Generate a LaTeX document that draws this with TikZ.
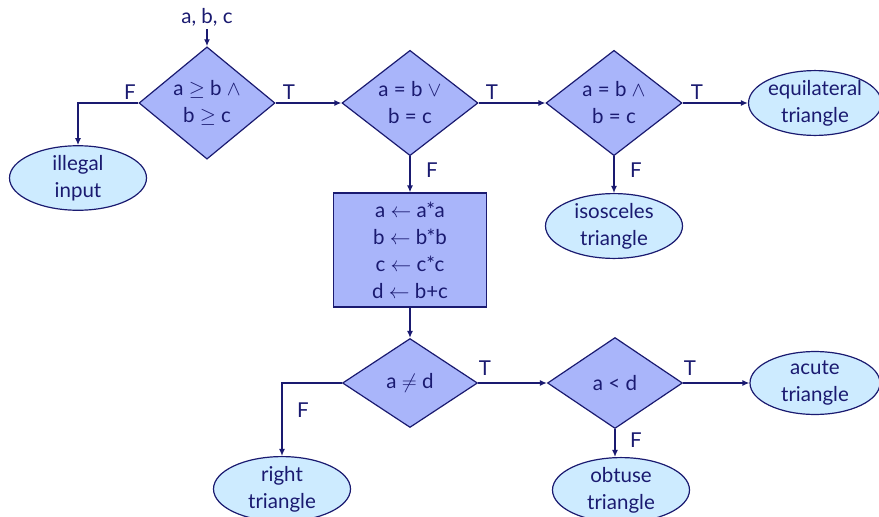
\documentclass[tikz,border=0pt]{standalone}
\usepackage{fontspec}
\setmainfont{Lato}
\usetikzlibrary{shapes.geometric,arrows.meta}
\definecolor{navy}{HTML}{1A1A70}
\definecolor{dfill}{HTML}{A9B5FA}
\definecolor{efill}{HTML}{CDEBFF}
\begin{document}
\begin{tikzpicture}[x=1pt,y=-1pt,
  every node/.style={text=navy, font=\fontsize{20.5}{27}\selectfont},
  dec/.style={diamond, draw=navy, fill=dfill, minimum width=136pt, minimum height=90pt, inner sep=0pt, align=center, line width=1.2pt},
  term/.style={ellipse, draw=navy, fill=efill, minimum width=137pt, minimum height=60pt, inner sep=0pt, align=center, line width=1.2pt},
  proc/.style={rectangle, draw=navy, fill=dfill, minimum width=153pt, minimum height=114pt, inner sep=0pt, align=center, line width=1.2pt},
  arr/.style={-{Latex[length=7pt,width=6pt]}, draw=navy, line width=1.4pt},
  lab/.style={inner sep=0pt}]
\useasboundingbox (0,0) rectangle (879,517);
\node (in) at (207,17) {a, b, c};
\node[dec] (d1) at (207,103) {a $\geq$ b $\wedge$\\ b $\geq$ c};
\node[term] (ill) at (78,178) {illegal\\input};
\node[dec] (d2) at (410,103) {a = b $\vee$\\ b = c};
\node[dec] (d3) at (614,103) {a = b $\wedge$\\ b = c};
\node[term, minimum width=130pt] (eq) at (815,103) {equilateral\\triangle};
\node[term] (iso) at (614,226) {isosceles\\triangle};
\node[proc] (box) at (410,250) {a $\leftarrow$ a*a\\ b $\leftarrow$ b*b\\ c $\leftarrow$ c*c\\ d $\leftarrow$ b+c};
\node[dec, minimum width=135pt, minimum height=89pt] (d4) at (410,383) {a $\neq$ d};
\node[dec, minimum width=135pt, minimum height=91pt] (d5) at (615,383) {a < d};
\node[term, minimum width=130pt] (ac) at (815,383) {acute\\triangle};
\node[term] (rt) at (282,489) {right\\triangle};
\node[term] (ob) at (621,490) {obtuse\\triangle};
\draw[arr] (in) -- (d1.north);
\draw[arr] (d1.west) -| (ill.north);
\draw[arr] (d1.east) -- (d2.west);
\draw[arr] (d2.east) -- (d3.west);
\draw[arr] (d3.east) -- (eq.west);
\draw[arr] (d3.south) -- (iso.north);
\draw[arr] (d2.south) -- (box.north);
\draw[arr] (box.south) -- (d4.north);
\draw[arr] (d4.west) -| (rt.north);
\draw[arr] (d4.east) -- (d5.west);
\draw[arr] (d5.east) -- (ac.west);
\draw[arr] (d5.south) -- (d5.south |- ob.north);
\node[lab] (f1) at (130,92) {F};
\node[lab] (t1) at (289,92) {T};
\node[lab] (t2) at (492,92) {T};
\node[lab] (t3) at (697,92) {T};
\node[lab] (f2) at (432,170) {F};
\node[lab] (f3) at (636,170) {F};
\node[lab] (f4) at (303,410) {F};
\node[lab] (t4) at (485,368) {T};
\node[lab] (t5) at (690,368) {T};
\node[lab] (f5) at (636,440) {F};
\end{tikzpicture}
\end{document}
